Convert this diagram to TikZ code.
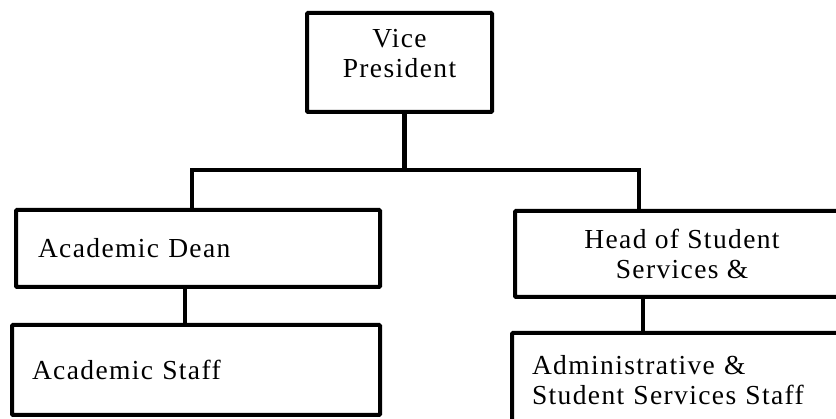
\documentclass[tikz,border=0pt]{standalone}
\usepackage{fontspec}
\setmainfont{Liberation Serif}[LetterSpace=5]
\usepackage{tikz}
\usetikzlibrary{positioning}

\begin{document}
\begin{tikzpicture}[
    x=1pt, y=-1pt,
    box/.style={rectangle, draw, line width=4pt, rounded corners=1pt, inner ysep=0pt, font=\fontsize{27.5}{30}\selectfont},
    conn/.style={line width=4.5pt}
]
\useasboundingbox (0,0) rectangle (836,419);

% Boxes
\node[box, minimum width=185pt, minimum height=99pt, align=center, text depth=18pt] (vp) at (399.5,62.5) {Vice\\President};
\node[box, minimum width=364pt, minimum height=77pt, inner xsep=22pt, text width=320pt, align=left] (dean) at (198,248.5) {Academic Dean};
\node[box, minimum width=368pt, minimum height=90pt, inner xsep=20pt, text width=328pt, align=left] (staff) at (196,370) {Academic Staff};
\node[box, minimum width=334pt, minimum height=86pt, align=center] (head) at (682,254) {Head of Student\\Services \&};
\node[box, minimum width=357pt, minimum height=94pt, inner xsep=20pt, text width=317pt, align=left] (admin) at (690.5,380) {Administrative \&\\Student Services Staff};

% Bus points
\coordinate (busL) at (192,170);
\coordinate (busR) at (639,170);

% Connectors
\draw[conn] ([xshift=5pt]vp.south) -- ([xshift=5pt]vp.south |- busL);
\draw[conn] (busL |- dean.north) -- (busL) -- (busR) -- (busR |- head.north);
\draw[conn] ([xshift=-13pt]dean.south) -- ([xshift=-13pt]dean.south |- staff.north);
\draw[conn] ([xshift=-39pt]head.south) -- ([xshift=-39pt]head.south |- admin.north);

\end{tikzpicture}
\end{document}
